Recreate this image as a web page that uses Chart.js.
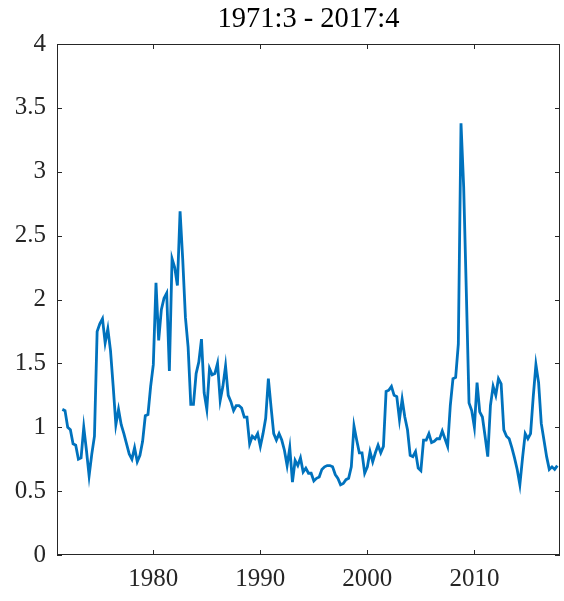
<!DOCTYPE html>
<html>
<head>
<meta charset="utf-8">
<script src="https://cdn.jsdelivr.net/npm/chart.js@4.4.1/dist/chart.umd.min.js"></script>
<style>
  html, body { margin: 0; padding: 0; background: #fff; }
  #wrap { width: 564px; height: 601px; }
</style>
</head>
<body>
<div id="wrap"><canvas id="chart" width="564" height="601"></canvas></div>
<script>
// ---- data (quarterly, 1971:3 .. 2017:4) ----
const titleText = '1971:3 - 2017:4';
const startYear = 1971;
const startQuarter = 3;
const xTicks = [1980, 1990, 2000, 2010];
const yTicks = [0, 0.5, 1, 1.5, 2, 2.5, 3, 3.5, 4];

const values = [
  1.14, 1.13,
  1.00, 0.98, 0.87, 0.86,   // 1972
  0.75, 0.76, 1.00, 0.82,   // 1973
  0.62, 0.79, 0.93, 1.75,   // 1974
  1.81, 1.85, 1.66, 1.77,   // 1975
  1.60, 1.32, 1.02, 1.14,   // 1976
  1.02, 0.95, 0.87, 0.79,   // 1977
  0.75, 0.84, 0.73, 0.78,   // 1978
  0.89, 1.09, 1.10, 1.32,   // 1979
  1.49, 2.13, 1.68, 1.92,   // 1980
  2.01, 2.05, 1.44, 2.32,   // 1981
  2.25, 2.11, 2.69, 2.31,   // 1982
  1.86, 1.63, 1.18, 1.18,   // 1983
  1.42, 1.51, 1.69, 1.27,   // 1984
  1.14, 1.46, 1.41, 1.42,   // 1985
  1.50, 1.21, 1.32, 1.48,   // 1986
  1.25, 1.20, 1.13, 1.17,   // 1987
  1.17, 1.15, 1.08, 1.08,   // 1988
  0.87, 0.93, 0.91, 0.95,   // 1989
  0.85, 0.95, 1.07, 1.38,   // 1990
  1.16, 0.95, 0.90, 0.95,   // 1991
  0.90, 0.82, 0.70, 0.84,   // 1992
  0.57, 0.74, 0.70, 0.76,   // 1993
  0.65, 0.68, 0.64, 0.64,   // 1994
  0.58, 0.60, 0.61, 0.67,   // 1995
  0.69, 0.70, 0.70, 0.69,   // 1996
  0.63, 0.60, 0.55, 0.56,   // 1997
  0.59, 0.60, 0.69, 1.01,   // 1998
  0.90, 0.80, 0.80, 0.64,   // 1999
  0.69, 0.81, 0.73, 0.80,   // 2000
  0.86, 0.80, 0.85, 1.28,   // 2001
  1.29, 1.32, 1.25, 1.24,   // 2002
  1.06, 1.22, 1.08, 0.98,   // 2003
  0.78, 0.77, 0.81, 0.68,   // 2004
  0.66, 0.90, 0.90, 0.95,   // 2005
  0.88, 0.89, 0.91, 0.91,   // 2006
  0.97, 0.91, 0.85, 1.17,   // 2007
  1.38, 1.39, 1.65, 3.38,   // 2008
  2.88, 2.05, 1.19, 1.13,   // 2009
  1.00, 1.35, 1.12, 1.08,   // 2010
  0.93, 0.77, 1.17, 1.32,   // 2011
  1.25, 1.38, 1.34, 0.98,   // 2012
  0.93, 0.91, 0.84, 0.76,   // 2013
  0.67, 0.55, 0.76, 0.95,   // 2014
  0.91, 0.95, 1.24, 1.49,   // 2015
  1.35, 1.03, 0.90, 0.77,   // 2016
  0.67, 0.69, 0.67, 0.70    // 2017
];

/* ---- helpers ---- */
const AXIS_COLOR = '#262626';
const FONT = 'Liberation Serif, Times New Roman, serif';

// quarter index -> fractional year (Q1 = yyyy.00)
const toYear = (i) => startYear + (startQuarter - 1 + i) / 4;
const points = values.map((v, i) => ({ x: toYear(i), y: v }));

// matlab-like box: frame, inward ticks on all four sides, title over the plot
const boxPlugin = {
  id: 'boxPlugin',
  afterDraw(chart) {
    const { ctx, chartArea: a, scales } = chart;
    const len = 5;
    ctx.save();
    ctx.strokeStyle = AXIS_COLOR;
    ctx.lineWidth = 1;
    ctx.strokeRect(a.left + 0.5, a.top + 0.5, a.right - a.left - 1, a.bottom - a.top - 1);

    ctx.beginPath();
    xTicks.forEach(v => {
      const px = Math.round(scales.x.getPixelForValue(v)) + 0.5;
      ctx.moveTo(px, a.bottom); ctx.lineTo(px, a.bottom - len);
      ctx.moveTo(px, a.top); ctx.lineTo(px, a.top + len);
    });
    yTicks.forEach(v => {
      const py = Math.round(scales.y.getPixelForValue(v)) + 0.5;
      ctx.moveTo(a.left, py); ctx.lineTo(a.left + len, py);
      ctx.moveTo(a.right, py); ctx.lineTo(a.right - len, py);
    });
    ctx.stroke();

    ctx.fillStyle = '#000';
    ctx.font = '28.5px ' + FONT;
    ctx.textAlign = 'center';
    ctx.textBaseline = 'middle';
    ctx.fillText(titleText, (a.left + a.right) / 2, 20);
    ctx.restore();
  }
};

new Chart(document.getElementById('chart'), {
  type: 'line',
  data: {
    datasets: [{
      data: points,
      borderColor: '#0072BD',
      borderWidth: 2.8,
      pointRadius: 0,
      tension: 0,
      fill: false
    }]
  },
  options: {
    responsive: false,
    animation: false,
    layout: { padding: { top: 44, right: 4, left: 0, bottom: 0 } },
    plugins: {
      legend: { display: false },
      tooltip: { enabled: false },
      title: { display: false }
    },
    scales: {
      x: {
        type: 'linear',
        min: 1971,
        max: 2018,
        afterBuildTicks: s => { s.ticks = xTicks.map(v => ({ value: v })); },
        afterFit: s => { s.height = 46; },
        grid: { display: false, drawTicks: false },
        border: { display: false },
        ticks: {
          color: AXIS_COLOR,
          font: { family: FONT, size: 25 },
          padding: 9,
          maxRotation: 0,
          callback: v => String(v)
        }
      },
      y: {
        min: 0,
        max: 4,
        afterBuildTicks: s => { s.ticks = yTicks.map(v => ({ value: v })); },
        afterFit: s => { s.width = 57; },
        grid: { display: false, drawTicks: false },
        border: { display: false },
        ticks: {
          color: AXIS_COLOR,
          font: { family: FONT, size: 25 },
          padding: 11,
          callback: v => String(v)
        }
      }
    }
  },
  plugins: [boxPlugin]
});
</script>
</body>
</html>
